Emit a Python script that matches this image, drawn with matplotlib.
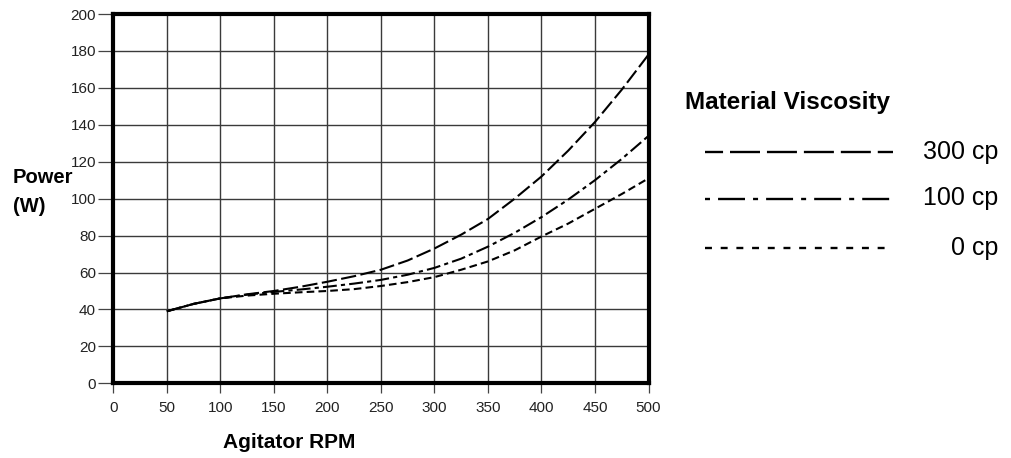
import matplotlib
matplotlib.use("Agg")
import matplotlib.pyplot as plt
from matplotlib.lines import Line2D

plt.rcParams['font.family'] = ['Liberation Sans', 'DejaVu Sans']
plt.rcParams['lines.scale_dashes'] = False

rpm = [50, 75, 100, 125, 150, 175, 200, 225, 250, 275, 300, 325, 350, 375, 400, 425, 450, 475, 500]
power_300cp = [39, 43, 46, 48.2, 50, 52.3, 55, 58, 61.5, 66.5, 73, 80.5, 89, 100, 112, 126, 141.5, 159, 178]
power_100cp = [39, 43, 46, 48, 49.5, 50.8, 52.3, 54, 56, 58.8, 62.5, 67.5, 74, 81.5, 90, 99.5, 110, 121.5, 134]
power_0cp = [39, 43, 46, 47.5, 48.5, 49.3, 50, 51, 52.7, 54.8, 57.5, 61.5, 66, 72, 79.5, 86.5, 94.5, 102.5, 111]
series_labels = ["300 cp", "100 cp", "0 cp"]
x_ticks = [0, 50, 100, 150, 200, 250, 300, 350, 400, 450, 500]
y_ticks = [0, 20, 40, 60, 80, 100, 120, 140, 160, 180, 200]

W, H = 1011, 458
fig = plt.figure(figsize=(W / 100, H / 100), dpi=100)
ax = fig.add_axes([113.3 / W, (H - 383.3) / H, 535.2 / W, 369.3 / H])

curve_dashes = [(11.0, 3.2), (10.0, 3.0, 3.0, 3.0), (5.5, 3.0)]
for ys, d in zip([power_300cp, power_100cp, power_0cp], curve_dashes):
    ax.plot(rpm, ys, color='black', lw=1.5, dashes=d, zorder=3, clip_on=False)

ax.set_xlim(0, 500)
ax.set_ylim(0, 200)
ax.set_xticks(x_ticks)
ax.set_yticks(y_ticks)
ax.grid(True, color='#3a3a3a', lw=1.0, zorder=1)
ax.set_axisbelow(True)
for s in ax.spines.values():
    s.set_linewidth(3.0)
    s.set_color('black')
    s.set_zorder(4)
ax.tick_params(axis='y', length=11, width=0.9, color='#444444', pad=1.5, labelsize=11, labelcolor='#222222')
ax.tick_params(axis='x', length=7.5, width=0.9, color='#444444', pad=5, labelsize=11, labelcolor='#222222')

fig.text(13 / W, 1 - 177.5 / H, "Power", fontsize=14.5, fontweight='bold', ha='left', va='center')
fig.text(13 / W, 1 - 206 / H, "(W)", fontsize=14.5, fontweight='bold', ha='left', va='center')
fig.text(289 / W, 1 - 442.5 / H, "Agitator RPM", fontsize=15, fontweight='bold', ha='center', va='center')

# legend
fig.text(685 / W, 1 - 102 / H, "Material Viscosity", fontsize=17.5, fontweight='bold', ha='left', va='center')
leg_y = [151.7, 198.5, 248]
leg_dashes = [(8.6, (21.6, 5.0)), (0, (3.6, 5.8, 19.4, 5.8)), (0, (5.0, 6.3))]
for yy, lab, ls in zip(leg_y, series_labels, leg_dashes):
    fig.add_artist(Line2D([705 / W, 893 / W], [1 - yy / H, 1 - yy / H], transform=fig.transFigure,
                          color='black', lw=1.7, linestyle=ls))
    fig.text(998 / W, 1 - yy / H, lab, fontsize=18, ha='right', va='center')

fig.savefig("out.png", dpi=100)
